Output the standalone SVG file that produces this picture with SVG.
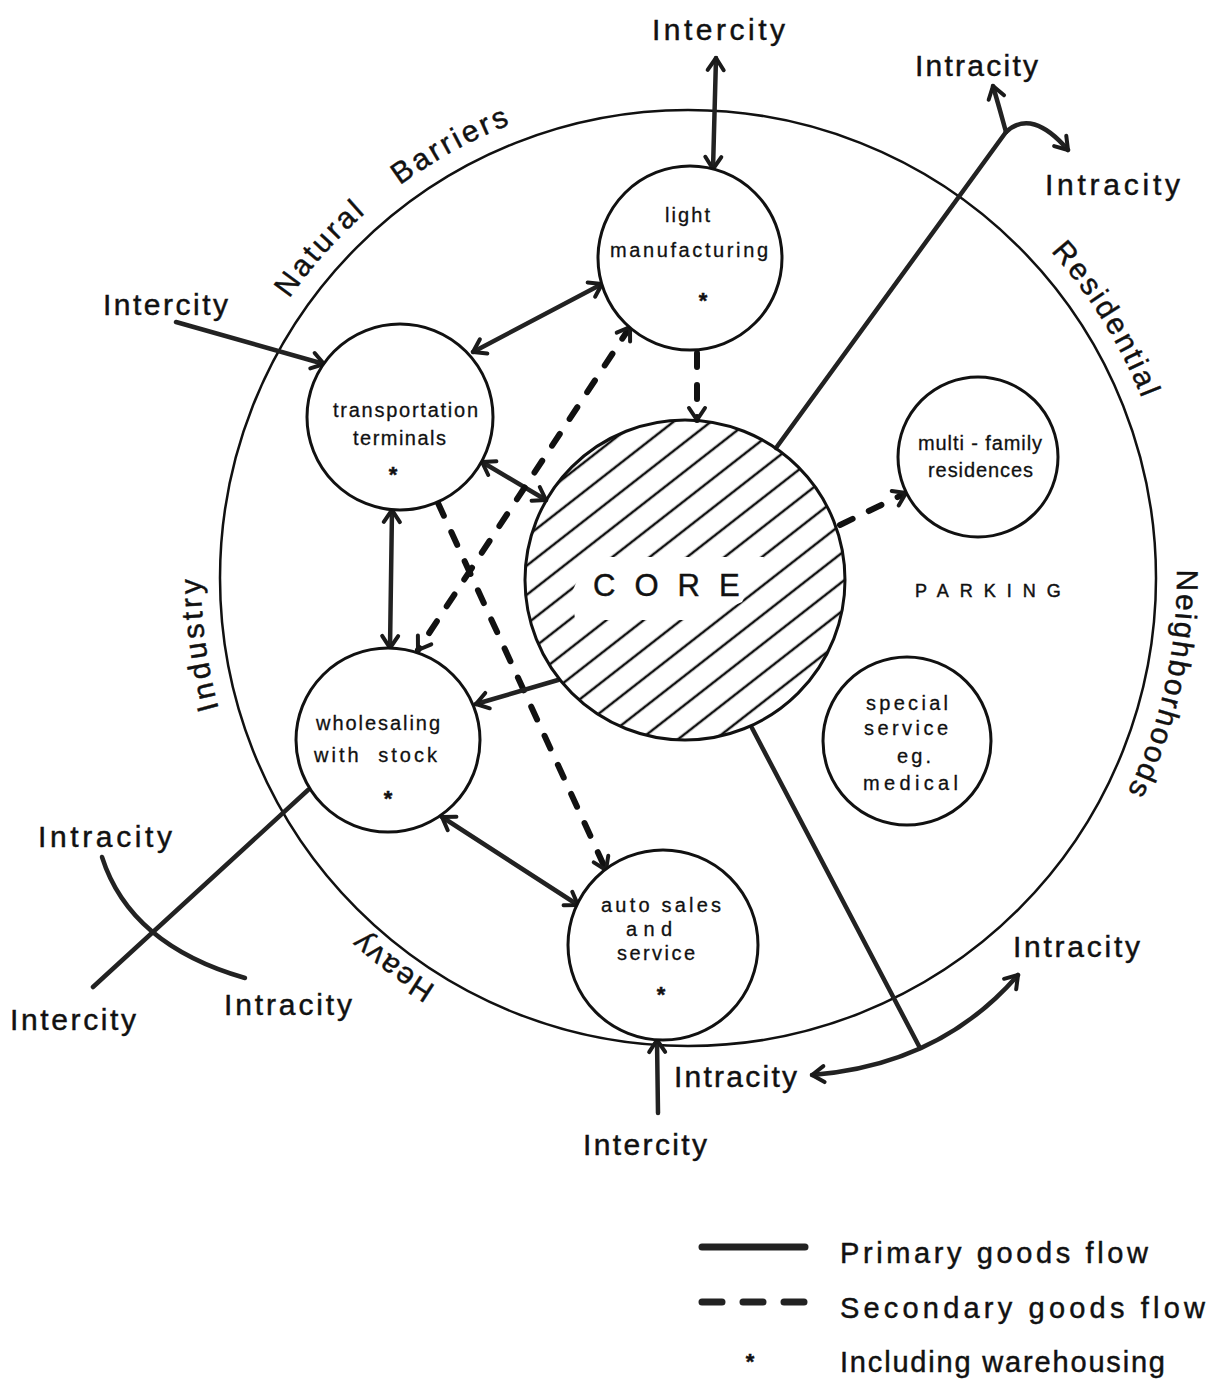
<svg xmlns="http://www.w3.org/2000/svg" width="1209" height="1393" viewBox="0 0 1209 1393">
<style>
text{font-family:"Liberation Sans",Arial,sans-serif;fill:#111;stroke:#111;stroke-width:0.45}
.lbl{font-size:30px}
.ring{font-size:30px}
.node{font-size:20px;stroke-width:0.3}
.star{font-size:22px;font-weight:bold;text-anchor:middle}
.leg{font-size:29px}
.circ{fill:#fff;stroke:#111;stroke-width:3}
.pri{fill:none;stroke:#222;stroke-width:4.5;stroke-linecap:round}
.sec{fill:none;stroke:#111;stroke-width:6;stroke-linecap:round;stroke-dasharray:14 18}
.arr2{marker-start:url(#ah);marker-end:url(#ah)}
.arr1{marker-end:url(#ah)}
</style>
<defs>
<marker id="ah" viewBox="-14 -10 16 20" refX="0" refY="0" markerWidth="16" markerHeight="20" markerUnits="userSpaceOnUse" orient="auto-start-reverse" overflow="visible">
<path d="M-12,-8 L0,0 L-12,8" fill="none" stroke="#1a1a1a" stroke-width="4" stroke-linecap="round" stroke-linejoin="round"/>
</marker>
<pattern id="hatch" patternUnits="userSpaceOnUse" width="40" height="23" patternTransform="rotate(-38)">
<line x1="-1" y1="11" x2="41" y2="11" stroke="#111" stroke-width="2.4"/>
</pattern>
<path id="pNB" d="M289.1,298.7 A487,487 0 0 1 521.4,120.4"/>
<path id="pRes" d="M1050.6,251.5 A488,488 0 0 1 1152.1,427.2"/>
<path id="pNei" d="M1176.9,569.5 A489,489 0 0 1 1102.7,837.1"/>
<path id="pInd" d="M218.8,708.6 A487,487 0 0 1 202.9,535.6"/>
<path id="pHea" d="M436,986 A480,480 0 0 1 342.7,911.5"/>
</defs>
<rect width="1209" height="1393" fill="#fff"/>

<g id="ring">
<circle cx="688" cy="578" r="468" fill="none" stroke="#111" stroke-width="2.5"/>
<text class="ring" letter-spacing="3" word-spacing="30"><textPath href="#pNB">Natural Barriers</textPath></text>
<text class="ring" letter-spacing="2.5"><textPath href="#pRes">Residential</textPath></text>
<text class="ring" letter-spacing="2.2"><textPath href="#pNei">Neighborhoods</textPath></text>
<text class="ring" letter-spacing="3.5"><textPath href="#pInd">Industry</textPath></text>
<text class="ring" letter-spacing="1.5"><textPath href="#pHea">Heavy</textPath></text>
</g>

<g id="connectors">
<path class="pri arr2" d="M716,58 L713,169"/>
<path class="pri" d="M776,448 L1006,132"/>
<path class="pri arr1" d="M1006,132 Q1000,110 993,86"/>
<path class="pri arr1" d="M1006,132 Q1032,108 1068,150"/>
<path class="pri arr1" d="M176,322 L324,364"/>
<path class="pri arr2" d="M473,352 L602,284"/>
<path class="sec arr1" d="M697,353 L697,420"/>
<path class="pri arr2" d="M482,462 L546,500"/>
<path class="pri arr2" d="M392,510 L390,648"/>
<path class="sec arr2" d="M630,327 L418,650"/>
<path class="sec arr1" d="M438,503 L606,870"/>
<path class="pri arr1" d="M558,680 L476,704"/>
<path class="pri arr2" d="M442,817 L578,905"/>
<path class="sec arr1" d="M840,525 L906,493"/>
<path class="pri" d="M308,790 L93,987"/>
<path class="pri" d="M102,857 Q130,945 245,978"/>
<path class="pri arr1" d="M658,1113 L657,1040"/>
<path class="pri" d="M752,728 L920,1048"/>
<path class="pri arr2" d="M812,1075 Q940,1065 1018,975"/>
</g>

<g id="node-core">
<circle cx="685" cy="580" r="160" fill="url(#hatch)" stroke="#111" stroke-width="3"/>
<polygon points="588,557 764,557 742,602 700,620 575,620 572,592" fill="#fff"/>
<text x="593" y="596" font-size="31" letter-spacing="19">CORE</text>
</g>
<g id="node-light-manufacturing">
<circle class="circ" cx="690" cy="258" r="92"/>
<text class="node" x="665" y="222" textLength="45" lengthAdjust="spacing">light</text>
<text class="node" x="610" y="257" textLength="158" lengthAdjust="spacing">manufacturing</text>
<text class="star" x="703" y="308">*</text>
</g>
<g id="node-transportation-terminals">
<circle class="circ" cx="400" cy="417" r="93"/>
<text class="node" x="333" y="417" textLength="145" lengthAdjust="spacing">transportation</text>
<text class="node" x="353" y="445" textLength="93" lengthAdjust="spacing">terminals</text>
<text class="star" x="393" y="482">*</text>
</g>
<g id="node-wholesaling">
<circle class="circ" cx="388" cy="740" r="92"/>
<text class="node" x="316" y="730" textLength="124" lengthAdjust="spacing">wholesaling</text>
<text class="node" x="314" y="762" textLength="123" lengthAdjust="spacing" word-spacing="8">with stock</text>
<text class="star" x="388" y="806">*</text>
</g>
<g id="node-auto-sales">
<circle class="circ" cx="663" cy="945" r="95"/>
<text class="node" x="601" y="912" textLength="120" lengthAdjust="spacing">auto sales</text>
<text class="node" x="626" y="936" textLength="46" lengthAdjust="spacing">and</text>
<text class="node" x="617" y="960" textLength="78" lengthAdjust="spacing">service</text>
<text class="star" x="661" y="1002">*</text>
</g>
<g id="node-multi-family">
<circle class="circ" cx="978" cy="457" r="80"/>
<text class="node" x="918" y="450" textLength="124" lengthAdjust="spacing">multi - family</text>
<text class="node" x="928" y="477" textLength="105" lengthAdjust="spacing">residences</text>
</g>
<g id="node-special-service">
<circle class="circ" cx="907" cy="741" r="84"/>
<text class="node" x="866" y="710" textLength="82" lengthAdjust="spacing">special</text>
<text class="node" x="864" y="735" textLength="84" lengthAdjust="spacing">service</text>
<text class="node" x="897" y="763" textLength="34" lengthAdjust="spacing">eg.</text>
<text class="node" x="863" y="790" textLength="95" lengthAdjust="spacing">medical</text>
</g>
<g id="label-parking">
<text x="915" y="597" font-size="18" letter-spacing="11" stroke-width="0.3">PARKING</text>
</g>

<g id="labels">
<text class="lbl" x="652" y="40" textLength="133" lengthAdjust="spacing">Intercity</text>
<text class="lbl" x="915" y="76" textLength="123" lengthAdjust="spacing">Intracity</text>
<text class="lbl" x="1045" y="195" textLength="135" lengthAdjust="spacing">Intracity</text>
<text class="lbl" x="103" y="315" textLength="125" lengthAdjust="spacing">Intercity</text>
<text class="lbl" x="38" y="847" textLength="134" lengthAdjust="spacing">Intracity</text>
<text class="lbl" x="10" y="1030" textLength="126" lengthAdjust="spacing">Intercity</text>
<text class="lbl" x="224" y="1015" textLength="128" lengthAdjust="spacing">Intracity</text>
<text class="lbl" x="674" y="1087" textLength="123" lengthAdjust="spacing">Intracity</text>
<text class="lbl" x="583" y="1155" textLength="124" lengthAdjust="spacing">Intercity</text>
<text class="lbl" x="1013" y="957" textLength="127" lengthAdjust="spacing">Intracity</text>
</g>

<g id="legend">
<line x1="702" y1="1247" x2="805" y2="1247" stroke="#222" stroke-width="7" stroke-linecap="round"/>
<line x1="702" y1="1302" x2="805" y2="1302" stroke="#222" stroke-width="7" stroke-linecap="round" stroke-dasharray="20 21"/>
<text class="star" x="750" y="1369">*</text>
<text class="leg" x="840" y="1263" textLength="308" lengthAdjust="spacing">Primary goods flow</text>
<text class="leg" x="840" y="1318" textLength="365" lengthAdjust="spacing">Secondary goods flow</text>
<text class="leg" x="840" y="1372" textLength="325" lengthAdjust="spacing">Including warehousing</text>
</g>
</svg>
